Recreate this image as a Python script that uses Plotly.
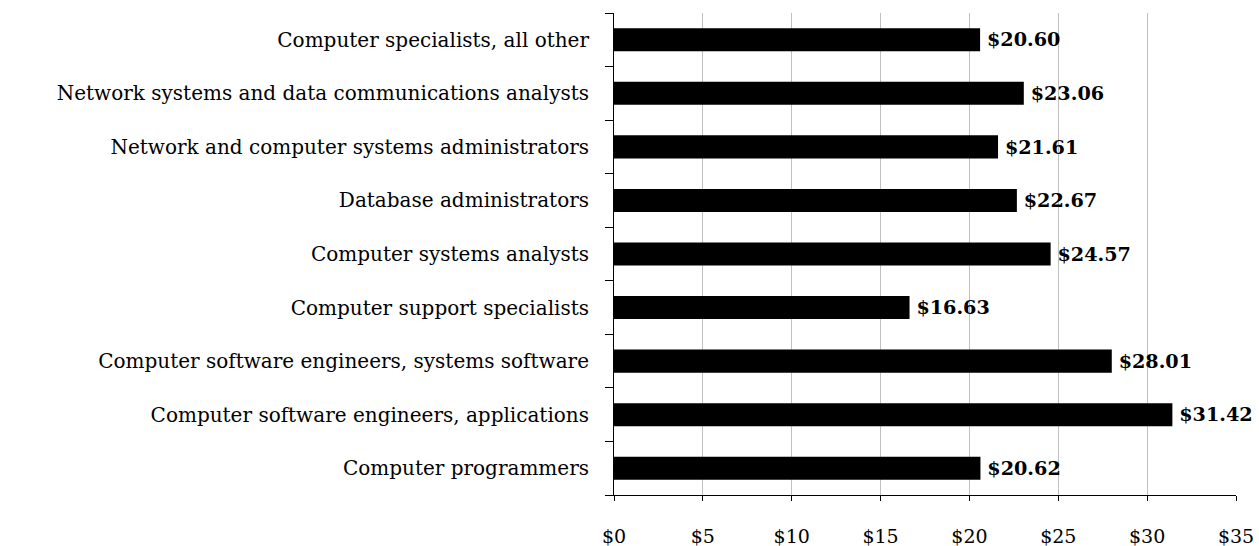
import plotly.graph_objects as go

categories = [
    "Computer programmers",
    "Computer software engineers, applications",
    "Computer software engineers, systems software",
    "Computer support specialists",
    "Computer systems analysts",
    "Database administrators",
    "Network and computer systems administrators",
    "Network systems and data communications analysts",
    "Computer specialists, all other",
]
wages = [20.62, 31.42, 28.01, 16.63, 24.57, 22.67, 21.61, 23.06, 20.60]
x_ticks = [0, 5, 10, 15, 20, 25, 30, 35]
x_tick_labels = ["$" + str(v) for v in x_ticks]

fig = go.Figure(
    go.Bar(
        x=wages,
        y=categories,
        orientation="h",
        marker=dict(color="black", line=dict(width=0)),
        width=0.43,
        text=["\u2009$%.2f" % v for v in wages],
        textposition="outside",
        textfont=dict(family="DejaVu Serif", size=20, color="black", weight="bold"),
        cliponaxis=False,
    )
)

fig.update_layout(
    width=1259,
    height=546,
    margin=dict(l=614, r=23, t=13, b=51, autoexpand=False),
    paper_bgcolor="white",
    plot_bgcolor="white",
    showlegend=False,
    font=dict(family="DejaVu Serif", color="black"),
)
fig.update_xaxes(
    range=[0, 35],
    tickvals=x_ticks,
    ticktext=x_tick_labels,
    showgrid=True,
    gridcolor="#c0c0c0",
    gridwidth=1,
    showline=True,
    linecolor="black",
    linewidth=1,
    ticks="outside",
    ticklen=5,
    tickcolor="black",
    tickfont=dict(size=19, family="DejaVu Serif"),
    ticklabelstandoff=19,
    zeroline=False,
    automargin=False,
)
fig.update_yaxes(
    showline=True,
    linecolor="black",
    linewidth=1,
    ticks="outside",
    tickson="boundaries",
    ticklen=8,
    tickcolor="black",
    tickfont=dict(size=20, family="DejaVu Serif"),
    ticklabelstandoff=20,
    showgrid=False,
    automargin=False,
)

fig.write_html(
    "out.html",
    config={"displayModeBar": False},
    post_script="document.body.style.margin='0';document.body.style.overflow='hidden';",
)
